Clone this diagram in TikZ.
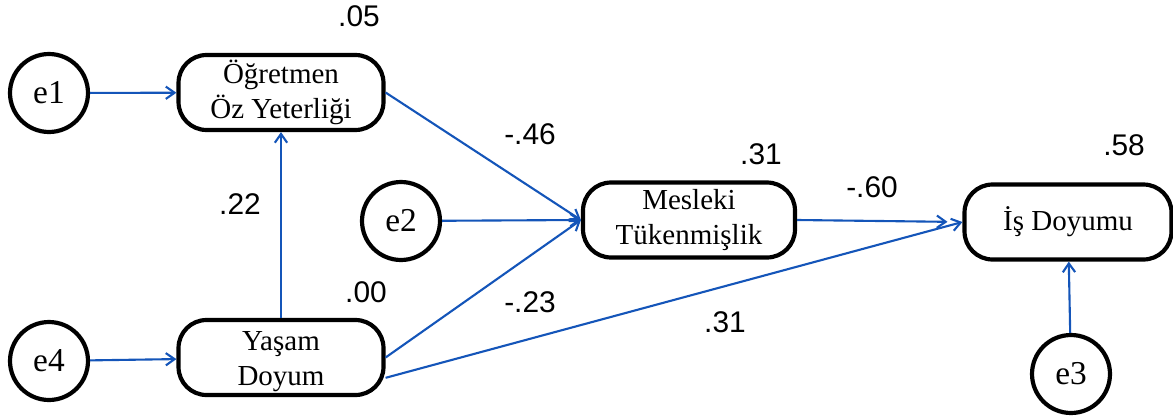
\documentclass[tikz,border=0pt]{standalone}
\usepackage{fontspec}
\setmainfont{Liberation Serif}
\newfontfamily\numfont{Liberation Sans}
\usetikzlibrary{arrows.meta}
\definecolor{arrowblue}{RGB}{20,85,185}
\tikzset{
  varbox/.style={draw=black, line width=4.2pt*0.567, rounded corners=0.56cm, minimum width=4.1cm, minimum height=1.5cm, align=center, font=\fontsize{16.5}{20}\selectfont, inner sep=0pt, fill=white},
  errnode/.style={draw=black, circle, line width=4.2pt*0.567, minimum size=1.56cm, inner sep=0pt, font=\fontsize{19}{22}\selectfont, fill=white},
  path/.style={draw=arrowblue, line width=1.2pt, -{Straight Barb[length=5pt,width=7pt,line width=1.2pt]}},
  coef/.style={font=\numfont\fontsize{17}{19}\selectfont, inner sep=0pt}
}
\begin{document}
\begin{tikzpicture}[x=0.02cm, y=-0.02cm]
\useasboundingbox (0,0) rectangle (1173,419);
% nodes
\node[errnode] (e1) at (49,93) {e1};
\node[errnode] (e4) at (49,361) {e4};
\node[errnode] (e2) at (401,221) {e2};
\node[errnode] (e3) at (1071,374) {e3};
\node[varbox] (og) at (281,92.5) {Öğretmen\\Öz Yeterliği};
\node[varbox] (ya) at (281,357.5) {\raisebox{-0.24cm}[0pt][0pt]{\parbox{4cm}{\centering Yaşam\\Doyum}}};
\node[varbox, minimum width=4.24cm] (mt) at (689,220) {Mesleki\\Tükenmişlik};
\node[varbox, minimum width=4.14cm] (is) at (1068,222) {İş Doyumu};
% connectors
\draw[path] (e1) -- (og);
\draw[path] (e4) -- (ya);
\draw[path] (ya) -- (og);
\draw[path] (og.east) -- (mt.west);
\draw[path] (e2) -- (mt.west);
\draw[path] (ya.east) -- (mt.west);
\draw[path, shorten >=15*0.567pt] (mt.east) -- (is.west);
\draw[path] (ya.-11) -- (is.west);
\draw[path] (e3) -- (is);
% coefficients
\node[coef] (c05) at (359,16) {.05};
\node[coef] (c46) at (530,134) {-.46};
\node[coef] (c31a) at (761,154) {.31};
\node[coef] (c58) at (1124,145) {.58};
\node[coef] (c22) at (240,204) {.22};
\node[coef] (c60) at (872,187) {-.60};
\node[coef] (c00) at (366,292) {.00};
\node[coef] (c23) at (530,302) {-.23};
\node[coef] (c31b) at (725,322) {.31};
\end{tikzpicture}
\end{document}
